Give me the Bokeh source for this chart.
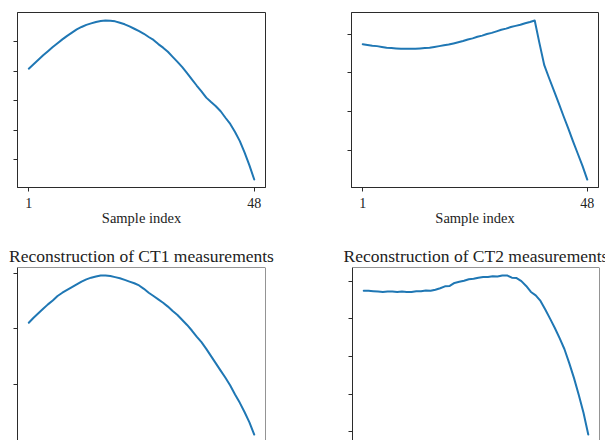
from bokeh.plotting import figure
from bokeh.layouts import column, row
from bokeh.models import Range1d, FixedTicker, Span
from bokeh.embed import file_html
from bokeh.resources import INLINE

# ---------------- data ----------------
sample_index = list(range(1, 49))

ct1_measured = [4.08, 4.23, 4.38, 4.53, 4.67, 4.81, 4.94, 5.07, 5.19, 5.30,
                5.41, 5.49, 5.56, 5.61, 5.66, 5.69, 5.71, 5.70, 5.68, 5.63,
                5.58, 5.51, 5.43, 5.35, 5.26, 5.15, 5.05, 4.91, 4.79, 4.65,
                4.48, 4.31, 4.13, 3.93, 3.72, 3.51, 3.31, 3.10, 2.95, 2.81,
                2.64, 2.42, 2.21, 1.94, 1.63, 1.24, 0.81, 0.33]

ct2_measured = [3.74, 3.72, 3.70, 3.69, 3.67, 3.65, 3.64, 3.63, 3.62, 3.62,
                3.62, 3.62, 3.63, 3.64, 3.65, 3.67, 3.69, 3.71, 3.73, 3.76,
                3.79, 3.82, 3.86, 3.89, 3.93, 3.96, 4.00, 4.03, 4.07, 4.11,
                4.14, 4.18, 4.21, 4.24, 4.28, 4.31, 4.35, 3.76, 3.20, 2.87,
                2.55, 2.23, 1.90, 1.58, 1.25, 0.93, 0.61, 0.26]

ct1_reconstructed = [3.11, 3.20, 3.28, 3.36, 3.44, 3.51, 3.59, 3.65, 3.70, 3.75,
                     3.80, 3.85, 3.89, 3.92, 3.94, 3.96, 3.96, 3.95, 3.93, 3.91,
                     3.88, 3.85, 3.82, 3.78, 3.72, 3.65, 3.59, 3.53, 3.47, 3.40,
                     3.32, 3.25, 3.16, 3.07, 2.97, 2.86, 2.76, 2.64, 2.51, 2.38,
                     2.25, 2.12, 1.98, 1.82, 1.67, 1.50, 1.32, 1.10]

ct2_reconstructed = [4.75, 4.75, 4.74, 4.73, 4.72, 4.73, 4.73, 4.72, 4.73, 4.72,
                     4.72, 4.74, 4.74, 4.76, 4.75, 4.78, 4.82, 4.87, 4.88, 4.96,
                     4.99, 5.02, 5.06, 5.07, 5.10, 5.12, 5.12, 5.14, 5.13, 5.16,
                     5.16, 5.10, 5.09, 5.01, 4.88, 4.72, 4.63, 4.48, 4.25, 4.01,
                     3.76, 3.49, 3.20, 2.83, 2.43, 1.98, 1.50, 0.92]

x_ticks = [1, 48]
ct1_measured_yticks = [1, 2, 3, 4, 5]
ct2_measured_yticks = [1, 2, 3, 4]
ct1_reconstructed_yticks = [1, 2, 3, 4]
ct2_reconstructed_yticks = [1, 2, 3, 4, 5]

x_label = "Sample index"
title_ct1 = "Reconstruction of CT1 measurements"
title_ct2 = "Reconstruction of CT2 measurements"

# ---------------- styling ----------------
FONT = "Liberation Serif"
LINE_COLOR = "#1f77b4"
FRAME_COLOR = "#2b2b2b"
TEXT_COLOR = "#222222"
FULL_FRAME_H = 175  # frame height of an uncropped panel


def padded(vals, frac=0.05):
    lo, hi = min(vals), max(vals)
    pad = (hi - lo) * frac
    return lo - pad, hi + pad


def make_panel(values, yticks, width, height, left, right, top, bottom,
               xaxis=True, title=None, frame_h=FULL_FRAME_H):
    x0, x1 = padded(sample_index)
    y0, y1 = padded(values)
    if frame_h < FULL_FRAME_H:
        y0 = y1 - (y1 - y0) * frame_h / FULL_FRAME_H
    p = figure(width=width, height=height, output_backend="svg",
               toolbar_location=None, tools="",
               x_range=Range1d(x0, x1), y_range=Range1d(y0, y1),
               min_border_left=left, min_border_right=right,
               min_border_top=top, min_border_bottom=bottom,
               x_axis_location="below" if xaxis else None,
               background_fill_color="white", border_fill_color="white")
    p.grid.visible = False
    p.line(sample_index, values, line_color=LINE_COLOR, line_width=2,
           line_join="round", line_cap="round")

    ya = p.yaxis[0]
    ya.ticker = FixedTicker(ticks=yticks)
    ya.major_label_overrides = {t: "" for t in yticks}
    ya.major_label_text_color = None
    ya.major_label_text_font_size = "8px"
    ya.major_label_standoff = 0
    ya.major_tick_out = 4
    ya.major_tick_in = 0
    ya.minor_tick_line_color = None
    ya.axis_line_color = FRAME_COLOR
    ya.major_tick_line_color = FRAME_COLOR

    if xaxis:
        xa = p.xaxis[0]
        xa.ticker = FixedTicker(ticks=x_ticks)
        xa.major_label_text_font = FONT
        xa.major_label_text_font_size = "14px"
        xa.major_label_text_color = TEXT_COLOR
        xa.major_label_standoff = 6
        xa.major_tick_out = 4
        xa.major_tick_in = 0
        xa.minor_tick_line_color = None
        xa.axis_line_color = FRAME_COLOR
        xa.major_tick_line_color = FRAME_COLOR
        xa.axis_label = x_label
        xa.axis_label_text_font = FONT
        xa.axis_label_text_font_size = "14.5px"
        xa.axis_label_text_font_style = "normal"
        xa.axis_label_text_color = TEXT_COLOR
        xa.axis_label_standoff = -1

    if frame_h < FULL_FRAME_H:
        # panel cropped at the bottom edge: draw only top and right frame edges
        p.outline_line_color = None
        p.add_layout(Span(location=y1, dimension="width",
                          line_color=FRAME_COLOR, line_width=1))
        p.add_layout(Span(location=x1, dimension="height",
                          line_color=FRAME_COLOR, line_width=1))
    else:
        p.outline_line_color = FRAME_COLOR
        p.outline_line_alpha = 1.0
        p.outline_line_width = 1

    if title:
        p.title.text = title
        p.title.align = "center"
        p.title.text_font = FONT
        p.title.text_font_size = "17.5px"
        p.title.text_font_style = "normal"
        p.title.text_color = TEXT_COLOR
        p.title.standoff = 4
    return p


p1 = make_panel(ct1_measured, ct1_measured_yticks, 300, 240, 17, 35, 12, 53)
p2 = make_panel(ct2_measured, ct2_measured_yticks, 305, 240, 51, 7, 12, 53)
p3 = make_panel(ct1_reconstructed, ct1_reconstructed_yticks, 300, 200, 17, 35, 27, 0,
                xaxis=False, title=title_ct1, frame_h=173)
p4 = make_panel(ct2_reconstructed, ct2_reconstructed_yticks, 305, 200, 52, 6, 27, 0,
                xaxis=False, title=title_ct2, frame_h=173)

layout = column(row(p1, p2), row(p3, p4))

with open("out.html", "w") as f:
    f.write(file_html(layout, INLINE))
